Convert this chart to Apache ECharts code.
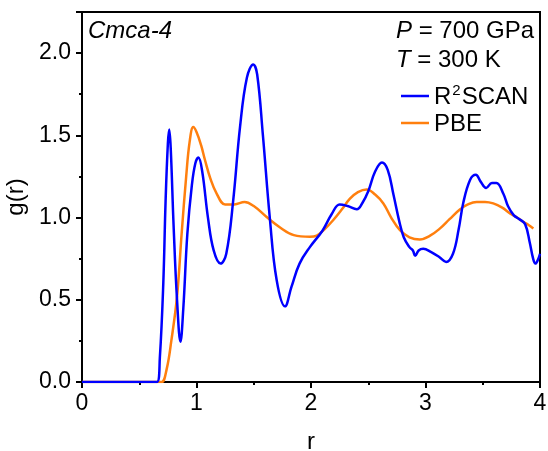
<!DOCTYPE html>
<html><head><meta charset="utf-8">
<script src="https://cdn.jsdelivr.net/npm/echarts@6/dist/echarts.min.js"></script>
<style>html,body{margin:0;padding:0;background:#fff}#c{width:548px;height:451px}</style>
</head><body><div id="c"></div>
<script>
var xTicks = [0, 1, 2, 3, 4];
var yTicks = [0.0, 0.5, 1.0, 1.5, 2.0];
var seriesNames = ['R\u00B2SCAN', 'PBE'];
var rR2 = [0,0.6,0.655,0.68,0.71,0.73,0.75,0.762,0.775,0.80,0.83,0.86,0.885,0.92,0.96,0.99,1.016,1.05,1.10,1.15,1.21,1.26,1.32,1.38,1.44,1.496,1.53,1.58,1.64,1.70,1.773,1.83,1.90,1.99,2.10,2.18,2.25,2.32,2.40,2.45,2.50,2.56,2.62,2.67,2.72,2.77,2.81,2.86,2.89,2.91,2.94,2.98,3.05,3.12,3.18,3.24,3.29,3.33,3.39,3.44,3.48,3.53,3.58,3.62,3.68,3.72,3.77,3.82,3.87,3.91,3.94,3.96,3.98,4.0];
var gR2 = [0,0,0,0.15,0.6,1.1,1.45,1.535,1.42,0.95,0.5,0.245,0.45,0.9,1.2,1.33,1.365,1.28,1.0,0.80,0.72,0.78,1.1,1.55,1.85,1.93,1.87,1.5,1.0,0.62,0.46,0.58,0.72,0.82,0.92,1.02,1.08,1.07,1.05,1.09,1.16,1.28,1.335,1.29,1.14,0.98,0.88,0.82,0.80,0.767,0.80,0.81,0.79,0.76,0.73,0.78,0.93,1.09,1.23,1.26,1.22,1.18,1.21,1.21,1.145,1.07,1.015,0.99,0.96,0.85,0.75,0.72,0.74,0.78];
var rPBE = [0,0.65,0.696,0.74,0.78,0.83,0.87,0.91,0.94,0.972,1.0,1.04,1.074,1.12,1.176,1.25,1.33,1.42,1.50,1.61,1.73,1.85,1.99,2.05,2.12,2.195,2.27,2.34,2.41,2.486,2.56,2.632,2.70,2.777,2.86,2.95,3.04,3.127,3.21,3.30,3.37,3.447,3.52,3.592,3.67,3.738,3.80,3.854,3.90,3.942];
var gPBE = [0,0,0,0.08,0.25,0.52,0.9,1.25,1.46,1.55,1.52,1.44,1.35,1.24,1.146,1.08,1.08,1.095,1.07,1.005,0.94,0.893,0.883,0.89,0.93,0.985,1.05,1.115,1.155,1.171,1.14,1.086,1.0,0.923,0.88,0.867,0.89,0.934,0.99,1.049,1.08,1.095,1.095,1.086,1.06,1.025,1.0,0.974,0.955,0.934];

function pairs(a, b) { return a.map(function (v, i) { return [v, b[i]]; }); }
var FONT = 'Liberation Sans, Arial, sans-serif';
var FS = 24;
var FT = 23;
var chart = echarts.init(document.getElementById('c'));
chart.setOption({
  animation: false,
  backgroundColor: '#fff',
  grid: { left: 82, right: 8, top: 12, bottom: 69, show: true, borderColor: '#000', borderWidth: 2, containLabel: false, outerBoundsMode: 'none' },
  xAxis: {
    type: 'value', min: xTicks[0], max: xTicks[xTicks.length - 1], interval: 1,
    name: 'r', nameLocation: 'middle', nameGap: 48,
    nameTextStyle: { fontFamily: FONT, fontSize: FS, color: '#000' },
    axisLine: { lineStyle: { color: '#000', width: 2 } },
    axisTick: { length: 6, lineStyle: { width: 2, color: '#000' } },
    minorTick: { show: true, splitNumber: 2, length: 3, lineStyle: { width: 2, color: '#000' } },
    splitLine: { show: false },
    axisLabel: { fontFamily: FONT, fontSize: FT, color: '#000', margin: 10 }
  },
  yAxis: {
    type: 'value', min: yTicks[0], max: 2.25, interval: 0.5,
    name: 'g(r)', nameLocation: 'middle', nameGap: 47,
    nameTextStyle: { fontFamily: FONT, fontSize: FS, color: '#000' },
    axisLine: { lineStyle: { color: '#000', width: 2 } },
    axisTick: { length: 6, lineStyle: { width: 2, color: '#000' } },
    minorTick: { show: true, splitNumber: 2, length: 3, lineStyle: { width: 2, color: '#000' } },
    splitLine: { show: false },
    axisLabel: { fontFamily: FONT, fontSize: FT, color: '#000', margin: 11,
      formatter: function (v) { return yTicks.indexOf(v) >= 0 ? v.toFixed(1) : ''; } }
  },
  legend: {
    orient: 'vertical', left: 396, top: 78, itemWidth: 28, itemHeight: 2.5, itemGap: 3,
    icon: 'rect',
    formatter: function (n) { return n === seriesNames[0] ? '{t|R}{s|2}{t|SCAN}' : '{t|' + n + '}'; },
    textStyle: { fontFamily: FONT, fontSize: FS, color: '#000',
      rich: {
        t: { fontFamily: FONT, fontSize: FS, color: '#000', lineHeight: 26, verticalAlign: 'bottom' },
        s: { fontFamily: FONT, fontSize: 15, color: '#000', lineHeight: 26, verticalAlign: 'top', padding: [0, 1, 0, 1] }
      } },
    data: seriesNames
  },
  graphic: [
    { type: 'text', left: 88, top: 19, style: { text: 'Cmca-4', fontFamily: FONT, fontSize: FS, fontStyle: 'italic', fill: '#000' } },
    { type: 'text', left: 396, top: 19, style: { text: '{i|P} = 700 GPa', fontFamily: FONT, fontSize: FS, fill: '#000', rich: { i: { fontStyle: 'italic', fontFamily: FONT, fontSize: FS } } } },
    { type: 'text', left: 396, top: 48, style: { text: '{i|T} = 300 K', fontFamily: FONT, fontSize: FS, fill: '#000', rich: { i: { fontStyle: 'italic', fontFamily: FONT, fontSize: FS } } } }
  ],
  series: [
    { name: seriesNames[0], type: 'line', data: pairs(rR2, gR2), smooth: 0.4, showSymbol: false, lineStyle: { color: '#0000ff', width: 2.5 }, itemStyle: { color: '#0000ff' }, z: 3 },
    { name: seriesNames[1], type: 'line', data: pairs(rPBE, gPBE), smooth: 0.4, showSymbol: false, lineStyle: { color: '#ff7f0e', width: 2.5 }, itemStyle: { color: '#ff7f0e' }, z: 2 }
  ]
});
</script></body></html>
